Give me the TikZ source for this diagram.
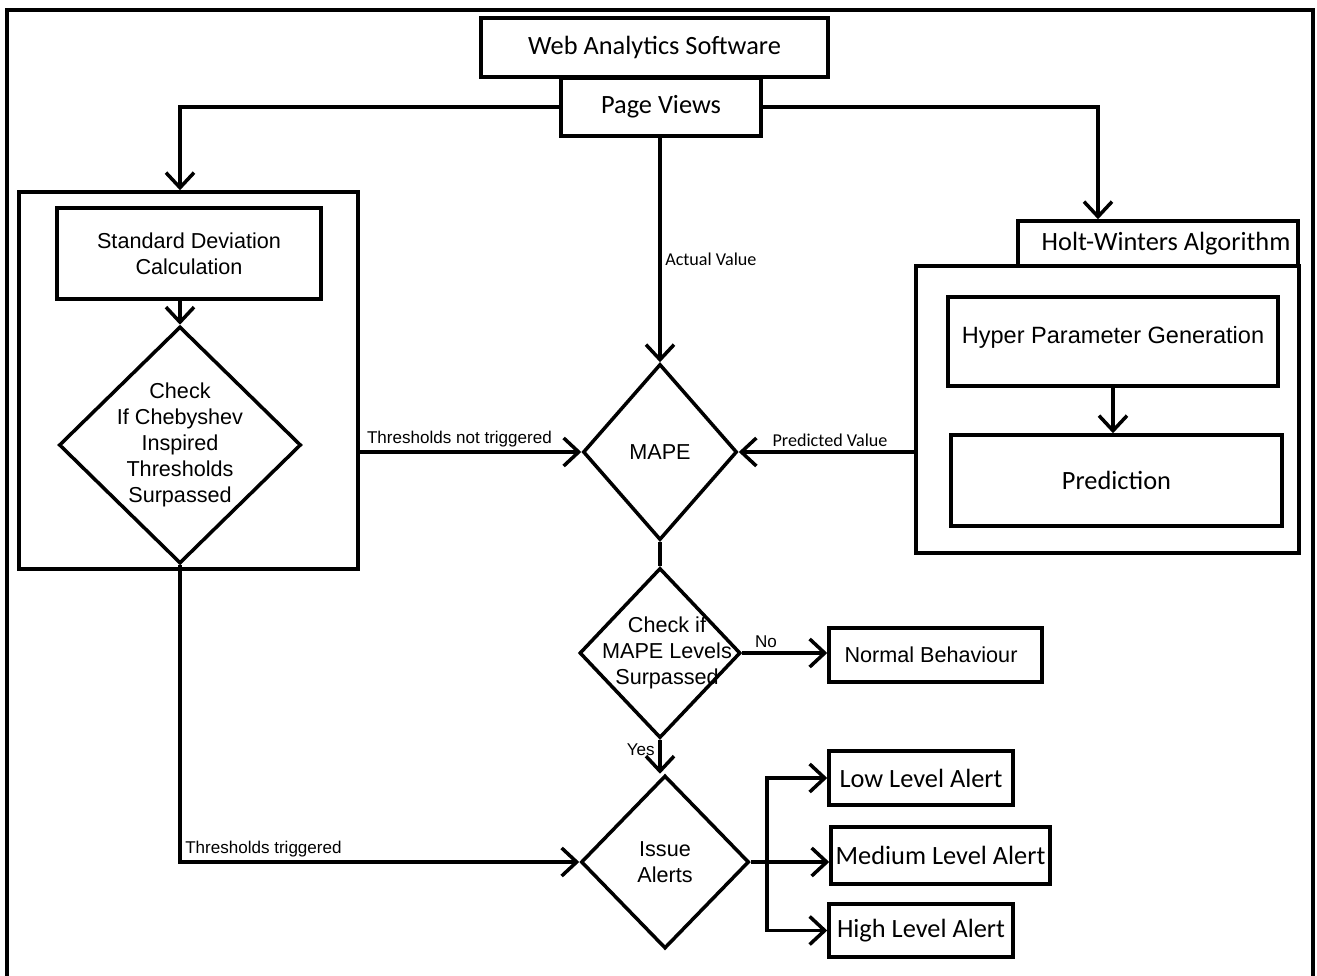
\documentclass[tikz,border=0pt]{standalone}
\usepackage{fontspec}
\setmainfont{Liberation Sans}
\newfontfamily\carlito{Carlito}
\usetikzlibrary{arrows.meta,positioning,shapes.geometric}
\newcommand{\arialtext}{\fontsize{12.3}{14.7}\selectfont}
\newcommand{\calibritext}{\carlito\fontsize{15}{18}\selectfont}
\tikzset{
  box/.style={draw,line width=2pt,inner sep=2pt,align=center,font=\arialtext},
  cbox/.style={box,font=\calibritext},
  dec/.style={draw,diamond,line width=2pt,inner sep=0pt,font=\arialtext},
  conn/.style={line width=2pt},
  arr/.style={conn,-{Straight Barb[length=3mm,width=5.6mm]}},
  lbl/.style={font=\fontsize{9.7}{11}\selectfont,inner sep=2pt},
  clbl/.style={font=\carlito\fontsize{10.3}{12}\selectfont,inner sep=2pt},
}

\begin{document}
\begin{tikzpicture}[x=0.2mm,y=-0.2mm]
    \useasboundingbox (0,0) rectangle (1317,976);
    % open frame round the whole chart
    \draw[conn] (7,976) -- (7,10) -- (1313,10) -- (1313,976);

    \node[cbox,minimum width=69.4mm,minimum height=11.8mm] (web) at (654.5,47.5) {Web Analytics Software};
    \node[cbox,minimum width=40mm,minimum height=11.6mm]   (pv)  at (661,107)    {Page Views};

    % left group: Chebyshev thresholds
    \node[box,minimum width=67.8mm,minimum height=75.4mm] (chebgrp) at (188.5,380.5) {};
    \node[box,minimum width=52.8mm,minimum height=18.2mm] (sd)      at (189,253.5)   {Standard Deviation\\Calculation};
    \node[dec,minimum width=48.4mm,minimum height=47.4mm] (cheb)    at (180,445)     {};
    \node[align=center,font=\arialtext] at (cheb) {Check\\If Chebyshev\\Inspired\\Thresholds\\Surpassed};

    % right group: Holt-Winters
    \node[cbox,minimum width=56mm,minimum height=9mm]     (hwtab) at (1158,243.5)  {\hspace*{3.2mm}Holt-Winters Algorithm};
    \node[box,minimum width=76.6mm,minimum height=57.4mm] (hwgrp) at (1107.5,409.5) {};
    \node[box,minimum width=66mm,minimum height=17.8mm,font=\fontsize{13.4}{16}\selectfont] (hpg) at (1113,341.5)
      {\raisebox{2.6mm}{Hyper Parameter Generation}};
    \node[cbox,minimum width=66.2mm,minimum height=18.2mm] (pred) at (1116.5,480.5) {Prediction};

    % middle column
    \node[dec,minimum width=30.8mm,minimum height=35.2mm] (mape)  at (660,452) {MAPE};
    \node[dec,minimum width=32.2mm,minimum height=34mm]   (chk)   at (660,653) {};
    \node[align=center,font=\arialtext] at ([xshift=1.4mm]chk.center) {Check if\\MAPE Levels\\Surpassed};
    \node[dec,minimum width=33.6mm,minimum height=34.6mm] (issue) at (665,862) {};
    \node[align=center,font=\arialtext] at (issue) {Issue\\Alerts};

    % outcomes
    \node[box,minimum width=42.6mm,minimum height=10.8mm]  (normal) at (935.5,655)   {Normal Behaviour\hspace*{1.8mm}};
    \node[cbox,minimum width=36.8mm,minimum height=10.8mm] (low)    at (921,778)     {Low Level Alert};
    \node[cbox,minimum width=43.8mm,minimum height=11.4mm] (med)    at (940.5,855.5) {Medium Level Alert};
    \node[cbox,minimum width=36.8mm,minimum height=10.6mm] (high)   at (921,930.5)   {High Level Alert};

    % connectors
    \draw[arr] (pv.west) -| (cheb |- chebgrp.north);
    \draw[arr] (pv.east) -| ([xshift=-12mm]hwtab.north);
    \draw[arr] (pv.south -| mape.north) -- node[clbl,right,pos=0.54]{Actual Value} (mape.north);
    \draw[arr] (sd.south -| cheb.north) -- (cheb.north);
    \draw[arr] (hpg.south) -- (hpg.south |- pred.north);
    \draw[arr] (chebgrp.east |- mape.west) -- node[lbl,above,pos=0.45]{Thresholds not triggered} (mape.west);
    \draw[arr] (hwgrp.west |- mape.east) -- node[clbl,above,pos=0.48]{Predicted Value} (mape.east);
    \draw[conn] (mape.south) -- (chk.north);
    \draw[arr] (chk.east) -- node[lbl,above,pos=0.28]{No} (chk.east -| normal.west);
    \draw[arr] (chk.south) -- node[lbl,left,pos=0.3]{Yes} (chk.south |- issue.north);
    \draw[arr] (cheb.south) |- node[lbl,above right,pos=0.5]{Thresholds triggered} (issue.west);
    \coordinate (fork) at ([xshift=3.2mm]issue.east);
    \draw[conn] (issue.east) -- (fork);
    \draw[arr] (fork) |- (low.west);
    \draw[arr] (fork) |- (high.west);
    \draw[arr] (issue.east) -- (issue.east -| med.west);
\end{tikzpicture}
\end{document}
